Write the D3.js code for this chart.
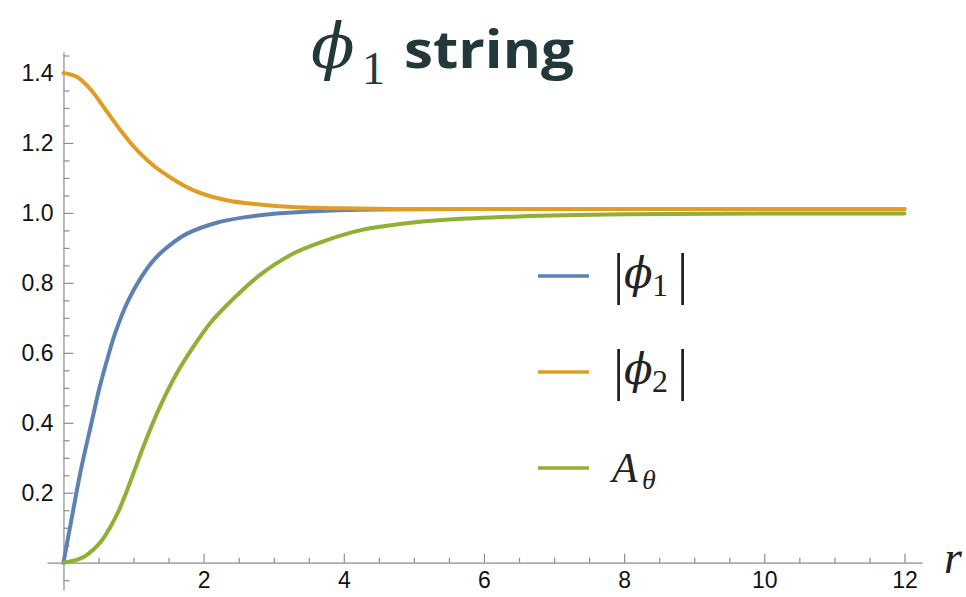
<!DOCTYPE html>
<html>
<head>
<meta charset="utf-8">
<script src="https://cdn.jsdelivr.net/npm/d3@7"></script>
<style>
  body { margin: 0; background: #fff; }
  svg { display: block; }
  .axis path, .axis line { stroke: #8c8c8c; stroke-width: 1.2; }
  .axis text { font-family: "Liberation Sans", Arial, sans-serif; font-size: 23px; fill: #111; }
</style>
</head>
<body>
<svg width="966" height="597"></svg>
<script>
// radial profiles
const phi1R = [0, 0.12, 0.245, 0.4, 0.52, 0.63, 0.735, 0.925, 1.115, 1.3, 1.5, 1.757, 2.185, 2.6, 3.04, 3.6, 4.23, 6, 8, 10, 12];
const phi1V = [0, 0.13, 0.262, 0.4, 0.505, 0.585, 0.655, 0.75, 0.818, 0.868, 0.905, 0.94, 0.972, 0.988, 0.998, 1.005, 1.009, 1.011, 1.011, 1.011, 1.011];

const phi2R = [0, 0.2, 0.4, 0.6, 0.8, 1.0, 1.2, 1.4, 1.85, 2.33, 2.8, 3.27, 4, 5, 6, 8, 10, 12];
const phi2V = [1.4, 1.388, 1.35, 1.295, 1.24, 1.19, 1.15, 1.118, 1.065, 1.036, 1.024, 1.017, 1.013, 1.011, 1.011, 1.011, 1.011, 1.011];

const aThR = [0, 0.188, 0.3, 0.425, 0.55, 0.663, 0.78, 0.9, 1.02, 1.138, 1.377, 1.615, 1.852, 2.09, 2.33, 2.8, 3.28, 3.755, 4.23, 4.8, 5.5, 6.5, 8, 10, 12];
const aThV = [0, 0.008, 0.018, 0.037, 0.064, 0.1, 0.145, 0.203, 0.267, 0.331, 0.446, 0.541, 0.617, 0.684, 0.736, 0.822, 0.884, 0.922, 0.95, 0.968, 0.981, 0.99, 0.996, 0.998, 0.998];

const xMajor = [2, 4, 6, 8, 10, 12];
const yMajor = [0.2, 0.4, 0.6, 0.8, 1.0, 1.2, 1.4];

const series = [
  {name: "phi1", r: phi1R, v: phi1V, color: "#5e81b5"},
  {name: "phi2", r: phi2R, v: phi2V, color: "#e19c24"},
  {name: "atheta", r: aThR, v: aThV, color: "#8fb032"}
];

const svg = d3.select("svg");

const x = d3.scaleLinear().domain([-0.235, 12.25]).range([47, 922]);
const y = d3.scaleLinear().domain([-0.078, 1.46]).range([590, 52]);

const xMinor = d3.range(0.5, 12.01, 0.5).filter(v => !xMajor.some(m => Math.abs(m - v) < 1e-6));
const yMinor = d3.range(-0.05, 1.46, 0.05).filter(v => Math.abs(v) > 1e-6 && !yMajor.some(m => Math.abs(m - v) < 1e-6));

// x axis (sits at y = 0)
svg.append("g").attr("class", "axis").attr("transform", `translate(0,${y(0)})`)
   .call(d3.axisBottom(x).tickValues(xMajor).tickSize(-9).tickSizeOuter(0).tickPadding(9).tickFormat(d3.format("d")));
svg.append("g").attr("class", "axis").attr("transform", `translate(0,${y(0)})`)
   .call(d3.axisBottom(x).tickValues(xMinor).tickSize(-5).tickSizeOuter(0).tickFormat(""))
   .select(".domain").remove();

// y axis (sits at x = 0)
svg.append("g").attr("class", "axis").attr("transform", `translate(${x(0)},0)`)
   .call(d3.axisLeft(y).tickValues(yMajor).tickSize(-10).tickSizeOuter(0).tickPadding(10).tickFormat(d3.format(".1f")));
svg.append("g").attr("class", "axis").attr("transform", `translate(${x(0)},0)`)
   .call(d3.axisLeft(y).tickValues(yMinor).tickSize(-6).tickSizeOuter(0).tickFormat(""))
   .select(".domain").remove();

// curves
const line = d3.line()
  .x(d => x(d[0]))
  .y(d => y(d[1]))
  .curve(d3.curveCatmullRom.alpha(0.5));

svg.append("g").selectAll("path")
  .data(series)
  .join("path")
  .attr("fill", "none")
  .attr("stroke", d => d.color)
  .attr("stroke-width", 4)
  .attr("stroke-linecap", "round")
  .attr("d", d => line(d.r.map((r, i) => [r, d.v[i]])));

const serif = "'Liberation Serif', 'Times New Roman', serif";

// axis label
svg.append("text")
  .attr("x", 944).attr("y", 573)
  .attr("font-family", serif)
  .attr("font-style", "italic")
  .attr("font-size", 46)
  .attr("fill", "#222")
  .text("r");

// title
const title = svg.append("text").attr("y", 68).attr("fill", "#22383a");
title.append("tspan")
  .attr("x", 311)
  .attr("font-family", "'DejaVu Serif', serif")
  .attr("font-style", "italic")
  .attr("font-size", 64)
  .text("ϕ");
title.append("tspan")
  .attr("x", 362).attr("dy", 16)
  .attr("font-family", serif)
  .attr("font-size", 46)
  .text("1");
title.append("tspan")
  .attr("x", 404).attr("dy", -16)
  .attr("font-family", "'Open Sans', Lato, sans-serif")
  .attr("font-weight", "bold")
  .attr("font-size", 52)
  .attr("textLength", 170)
  .attr("lengthAdjust", "spacingAndGlyphs")
  .text("string");

// legend
const legendY = [276, 372, 468];
const lg = svg.append("g");
series.forEach((s, i) => {
  lg.append("line")
    .attr("x1", 538).attr("x2", 589)
    .attr("y1", legendY[i]).attr("y2", legendY[i])
    .attr("stroke", s.color).attr("stroke-width", 3.6);
});

function absLabel(cy, sub) {
  const t = lg.append("text").attr("y", cy + 12).attr("fill", "#222").attr("font-family", serif);
  t.append("tspan").attr("x", 613).attr("font-size", 56).attr("dy", 5).text("|");
  t.append("tspan").attr("x", 624).attr("font-size", 42).attr("font-family", "'DejaVu Serif', serif")
    .attr("font-style", "italic").attr("dy", -5).text("ϕ");
  t.append("tspan").attr("x", 652).attr("font-size", 32).attr("dy", 8).text(sub);
  t.append("tspan").attr("x", 677).attr("font-size", 56).attr("dy", -3).text("|");
}
absLabel(legendY[0], "1");
absLabel(legendY[1], "2");

const at = lg.append("text").attr("y", legendY[2] + 14).attr("fill", "#222").attr("font-family", serif).attr("font-style", "italic");
at.append("tspan").attr("x", 612).attr("font-size", 42).text("A");
at.append("tspan").attr("x", 642).attr("font-size", 28).attr("dy", 7).text("θ");
</script>
</body>
</html>
